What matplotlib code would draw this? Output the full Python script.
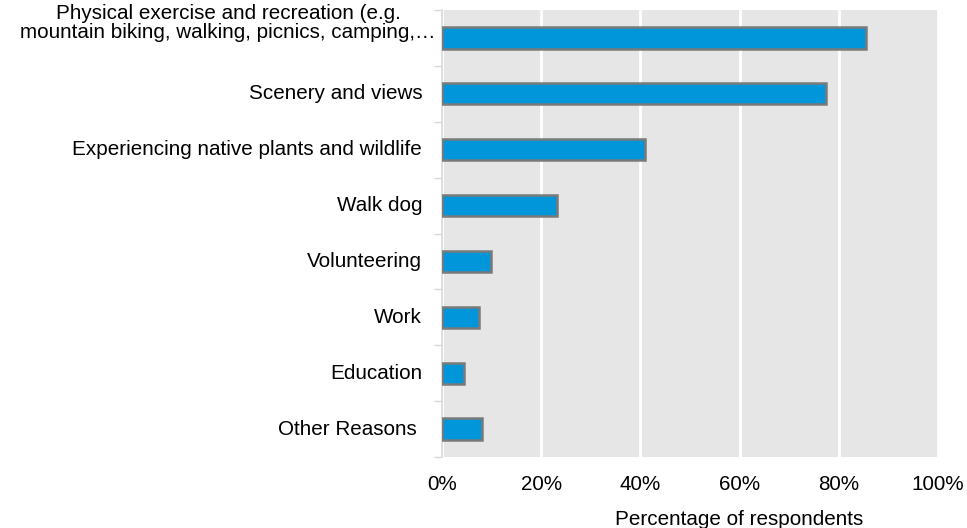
import numpy as np
import matplotlib.pyplot as plt

plt.rcParams['font.family'] = ['Liberation Sans', 'DejaVu Sans']

reasons = [
    "Physical exercise and recreation (e.g.\nmountain biking, walking, picnics, camping,\u2026",
    "Scenery and views",
    "Experiencing native plants and wildlife",
    "Walk dog",
    "Volunteering",
    "Work",
    "Education",
    "Other Reasons ",
]
share = [85.4, 77.5, 41.0, 23.2, 9.9, 7.4, 4.4, 8.1]
xticks = [0, 20, 40, 60, 80, 100]

FS = 14.9

fig = plt.figure(figsize=(9.67, 5.28), dpi=100)
ax = fig.add_axes([442 / 967, 71 / 528, 496 / 967, 447 / 528])
ax.set_facecolor('#e6e6e6')

pos = np.arange(len(reasons))
ax.barh(pos, share, height=0.38, color='#0096d9', edgecolor='#7a7a7a',
        linewidth=1.8, zorder=3)

ax.set_xlim(0, 100)
ax.set_ylim(len(reasons) - 0.5, -0.5)

# grid + percent ticks
ax.set_xticks(xticks)
ax.set_xticklabels([f"{v}%" for v in xticks], fontsize=FS)
ax.tick_params(axis='x', length=0, pad=13)
ax.grid(axis='x', color='white', linewidth=2, zorder=1)

# category separators on the left axis
ax.set_yticks(np.arange(len(reasons) + 1) - 0.5)
ax.set_yticklabels([])
ax.tick_params(axis='y', length=6, width=1, color='#d9d9d9')

for side in ['top', 'right', 'bottom']:
    ax.spines[side].set_visible(False)
ax.spines['left'].set_color('#d9d9d9')
ax.spines['left'].set_linewidth(1.2)

# category labels
for i, name in enumerate(reasons):
    if '\n' in name:
        ax.text(-0.431, i - 0.26, name, transform=ax.get_yaxis_transform(),
                ha='center', va='center', multialignment='center',
                fontsize=FS, linespacing=1.0)
    else:
        ax.text(-0.04, i, name, transform=ax.get_yaxis_transform(),
                ha='right', va='center', fontsize=FS)

ax.set_xlabel("Percentage of respondents", fontsize=FS, va='baseline')
ax.xaxis.set_label_coords(0.6, -0.152)

fig.savefig('out.png', dpi=100)
